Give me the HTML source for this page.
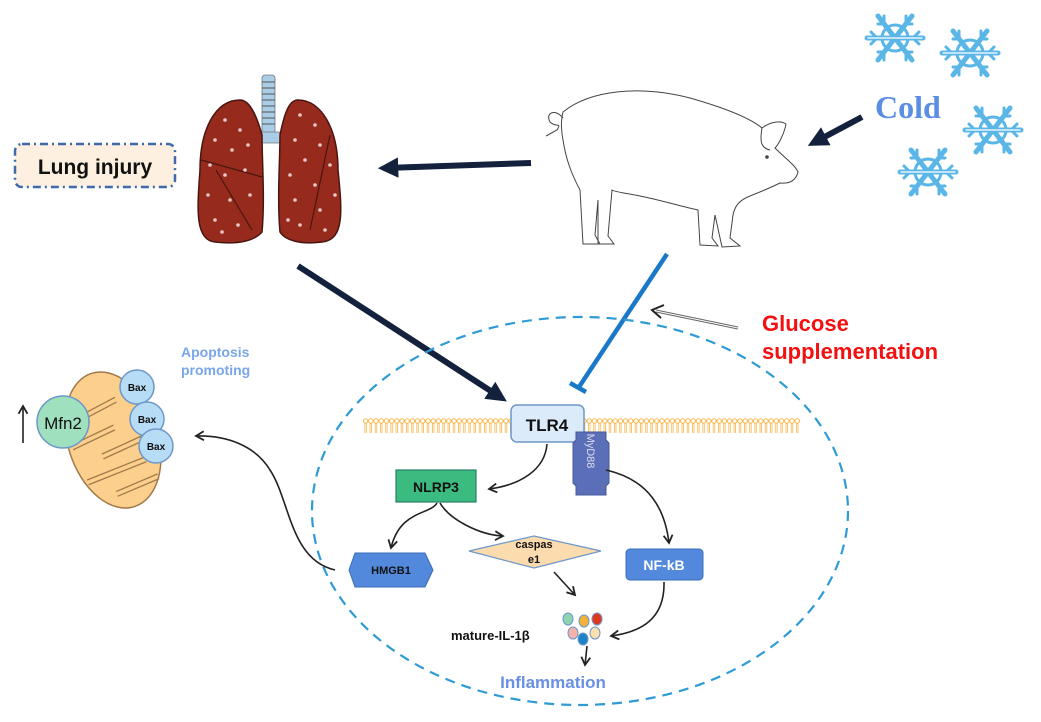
<!DOCTYPE html>
<html><head><meta charset="utf-8"><style>
html,body{margin:0;padding:0;background:#fff;}
svg{display:block;font-family:"Liberation Sans",Arial,sans-serif;}
</style></head><body>
<svg width="1041" height="722" viewBox="0 0 1041 722" xmlns="http://www.w3.org/2000/svg">
<defs>
<pattern id="mem" x="363" y="418" width="5.2" height="16" patternUnits="userSpaceOnUse">
<circle cx="2.6" cy="3" r="2.2" fill="none" stroke="#f6b64a" stroke-width="1"/>
<line x1="1.8" y1="5" x2="1.8" y2="15" stroke="#f6b64a" stroke-width="0.8"/>
<line x1="3.4" y1="5" x2="3.4" y2="15" stroke="#f6b64a" stroke-width="0.8"/>
</pattern>
<g id="flake" stroke="#5bb6e8" stroke-width="5" fill="none" stroke-linecap="round">
<circle r="13" stroke-width="3"/>
<line x1="-28" y1="0" x2="28" y2="0"/>
<line x1="-17" y1="-22" x2="17" y2="22"/>
<line x1="17" y1="-22" x2="-17" y2="22"/>
<path d="M-24,-6 L-18,0 L-24,6 M24,-6 L18,0 L24,6 M-17,-14 L-11,-14 L-11,-22 M17,-14 L11,-14 L11,-22 M-17,14 L-11,14 L-11,22 M17,14 L11,14 L11,22" stroke-width="3"/>
<line x1="-27" y1="0" x2="27" y2="0" stroke="#fff" stroke-width="1.2"/>
</g>
<marker id="ah" viewBox="0 0 10 10" refX="8" refY="5" markerWidth="7" markerHeight="7" orient="auto"><path d="M1,1 L8,5 L1,9" fill="none" stroke="#222" stroke-width="1.6"/></marker>
<marker id="ahn" viewBox="0 0 10 10" refX="6" refY="5" markerWidth="3.4" markerHeight="3.4" orient="auto"><path d="M0,0 L10,5 L0,10 z" fill="#14213d"/></marker>
</defs>

<use href="#flake" transform="translate(895,38)"/>
<use href="#flake" transform="translate(970,53)"/>
<use href="#flake" transform="translate(993,130)"/>
<use href="#flake" transform="translate(928,172)"/>
<text x="875" y="118" font-family="Liberation Serif,serif" font-weight="bold" font-size="32" fill="#5b8ee3">Cold</text>

<rect x="15" y="144" width="160" height="43" rx="7" fill="#fdf0e0" stroke="#3e6aad" stroke-width="2.5" stroke-dasharray="8,4,2,4"/>
<text x="95" y="174" text-anchor="middle" font-weight="bold" font-size="21" fill="#111">Lung injury</text>

<g>
<rect x="262" y="75" width="13" height="62" rx="3" fill="#a9cde6" stroke="#777" stroke-width="0.8"/>
<path d="M262,82 h13 M262,88 h13 M262,94 h13 M262,100 h13 M262,106 h13 M262,112 h13 M262,118 h13 M262,124 h13" stroke="#555" stroke-width="1"/>
<path d="M258,132 L279,132 L284,143 L253,143 z" fill="#a9cde6" stroke="#777" stroke-width="0.8"/>
<path d="M240,100 C215,100 200,130 200,170 C197,210 195,240 215,242 C240,245 255,240 262,232 C265,200 262,160 262,135 C255,110 248,100 240,100 z" fill="#962a1c" stroke="#4a1510" stroke-width="1.5"/>
<path d="M298,100 C322,100 338,130 338,170 C342,210 345,240 322,242 C300,245 285,240 280,232 C277,200 280,160 280,135 C285,110 290,100 298,100 z" fill="#962a1c" stroke="#4a1510" stroke-width="1.5"/>
<path d="M201,160 L262,177 M216,170 L252,230 M330,135 L310,230" stroke="#4a1510" stroke-width="1.2" fill="none"/>
<g fill="#e8c8c8">
<circle cx="225" cy="120" r="1.8"/><circle cx="240" cy="130" r="1.8"/><circle cx="215" cy="140" r="1.8"/><circle cx="232" cy="150" r="1.8"/><circle cx="248" cy="145" r="1.8"/><circle cx="210" cy="165" r="1.8"/><circle cx="225" cy="175" r="1.8"/><circle cx="245" cy="170" r="1.8"/><circle cx="208" cy="195" r="1.8"/><circle cx="230" cy="200" r="1.8"/><circle cx="250" cy="195" r="1.8"/><circle cx="215" cy="220" r="1.8"/><circle cx="238" cy="225" r="1.8"/><circle cx="222" cy="232" r="1.8"/>
<circle cx="300" cy="115" r="1.8"/><circle cx="315" cy="125" r="1.8"/><circle cx="295" cy="140" r="1.8"/><circle cx="320" cy="145" r="1.8"/><circle cx="305" cy="160" r="1.8"/><circle cx="330" cy="165" r="1.8"/><circle cx="290" cy="175" r="1.8"/><circle cx="315" cy="185" r="1.8"/><circle cx="335" cy="195" r="1.8"/><circle cx="295" cy="200" r="1.8"/><circle cx="320" cy="210" r="1.8"/><circle cx="300" cy="225" r="1.8"/><circle cx="325" cy="230" r="1.8"/><circle cx="288" cy="220" r="1.8"/>
</g>
</g>

<!-- pig outline -->
<g fill="none" stroke="#444" stroke-width="1">
<path d="M563,112 C590,90 640,85 690,98 C725,108 750,118 762,128 C770,122 780,120 786,124 C784,135 778,145 775,148 C785,158 795,165 798,172 C796,180 790,184 780,183 C770,188 760,192 750,196 C740,200 735,205 733,215 L730,238 L740,246 L722,247 L715,215 L712,238 L718,246 L700,245 L698,210 C680,206 660,200 640,196 C625,193 615,192 612,190 L608,236 L614,244 L598,244 L598,200 L595,235 L600,244 L583,244 L580,190 C572,175 566,160 563,140 C561,130 561,120 563,112 z"/>
<path d="M563,118 C555,108 545,113 550,122 C556,128 562,122 557,130 L546,136"/>
<path d="M762,128 C760,140 760,148 770,150"/>
<circle cx="767" cy="157" r="1.3" fill="#444"/>
</g>

<line x1="531" y1="163" x2="386" y2="168" stroke="#14213d" stroke-width="6" marker-end="url(#ahn)"/>
<line x1="862" y1="117" x2="815" y2="142" stroke="#14213d" stroke-width="6" marker-end="url(#ahn)"/>
<line x1="298" y1="266" x2="500" y2="397" stroke="#14213d" stroke-width="6" marker-end="url(#ahn)"/>
<line x1="667" y1="254" x2="579" y2="387" stroke="#1a78c8" stroke-width="4.5"/>
<line x1="570" y1="383" x2="586" y2="392" stroke="#1a78c8" stroke-width="4.5"/>
<line x1="738" y1="328" x2="656" y2="311" stroke="#666" stroke-width="3"/>
<line x1="738" y1="328" x2="656" y2="311" stroke="#fff" stroke-width="1"/>
<path d="M664,305 L652,310 L661,318" fill="none" stroke="#222" stroke-width="2"/>

<text x="762" y="331" font-weight="bold" font-size="22" fill="#f21010">Glucose</text>
<text x="762" y="359" font-weight="bold" font-size="22" fill="#f21010">supplementation</text>

<ellipse cx="580" cy="511" rx="268" ry="194" fill="none" stroke="#2f9bd6" stroke-width="2.2" stroke-dasharray="10,7"/>
<rect x="363" y="418" width="437" height="16" fill="url(#mem)"/>

<rect x="511" y="405" width="73" height="37" rx="6" fill="#dcebf9" stroke="#6d97c8" stroke-width="1.5"/>
<text x="547" y="431" text-anchor="middle" font-weight="bold" font-size="17" fill="#111">TLR4</text>
<path d="M576,432 h30 v8 l3,3 v40 l-3,3 v9 h-30 v-9 l-3,-3 v-40 l3,-3 z" fill="#5a6fb8" stroke="#46589a"/>
<text transform="translate(587,451) rotate(90)" text-anchor="middle" font-size="11" fill="#dde">MyD88</text>

<rect x="396" y="470" width="80" height="32" fill="#3cbb81" stroke="#2a7f6a" stroke-width="1.2"/>
<text x="436" y="492" text-anchor="middle" font-weight="bold" font-size="14" fill="#111">NLRP3</text>

<path d="M355,553 L349,570 L355,587 L425,587 L433,570 L425,553 z" fill="#5289dc" stroke="#3b6db8"/>
<text x="391" y="574" text-anchor="middle" font-weight="bold" font-size="11" fill="#111">HMGB1</text>

<path d="M469,551 L534,536 L601,551 L534,568 z" fill="#fcdcae" stroke="#6d97c8" stroke-width="1.2"/>
<text x="534" y="548" text-anchor="middle" font-weight="bold" font-size="11" fill="#111">caspas</text>
<text x="534" y="563" text-anchor="middle" font-weight="bold" font-size="11" fill="#111">e1</text>

<rect x="626" y="549" width="77" height="31" rx="4" fill="#5289dc" stroke="#3b6db8"/>
<text x="664" y="570" text-anchor="middle" font-weight="bold" font-size="14" fill="#fff">NF-kB</text>

<text x="451" y="640" font-weight="bold" font-size="13" fill="#111">mature-IL-1β</text>
<ellipse cx="568" cy="619" rx="5" ry="6" fill="#8ed4b0" stroke="#6d97c8"/>
<ellipse cx="584" cy="621" rx="5" ry="6" fill="#f2b13a" stroke="#6d97c8"/>
<ellipse cx="597" cy="619" rx="5" ry="6" fill="#e0361e" stroke="#6d97c8"/>
<ellipse cx="573" cy="633" rx="5" ry="6" fill="#f2b3a8" stroke="#6d97c8"/>
<ellipse cx="595" cy="633" rx="5" ry="6" fill="#fde0b0" stroke="#6d97c8"/>
<ellipse cx="583" cy="639" rx="5" ry="6" fill="#1c83c8" stroke="#6d97c8"/>
<text x="553" y="688" text-anchor="middle" font-weight="bold" font-size="17" fill="#6a8fe6">Inflammation</text>

<g fill="none" stroke="#222" stroke-width="1.6" marker-end="url(#ah)">
<path d="M547,444 C545,470 520,485 489,489"/>
<path d="M606,470 C650,480 665,510 669,543"/>
<path d="M437,503 C430,515 400,510 391,548"/>
<path d="M440,503 C450,520 480,535 503,536"/>
<path d="M554,572 L575,595"/>
<path d="M664,582 C665,620 640,632 611,636"/>
<path d="M587,646 L585,665"/>
<path d="M335,570 C290,560 290,500 270,470 C255,445 225,435 196,436"/>
</g>

<g transform="rotate(-18 113 440)">
<ellipse cx="113" cy="440" rx="45" ry="70" fill="#fccf8d" stroke="#a07a4a" stroke-width="1.5"/>
<g fill="none" stroke="#a07a4a" stroke-width="1.3">
<path d="M82,408 L128,400 M72,432 L118,426 M98,450 L150,444 M76,470 L138,466 M100,490 L145,486"/>
<path d="M82,413 L128,405 M72,437 L118,431 M98,455 L150,449 M76,475 L138,471 M100,495 L145,491"/>
</g>
</g>
<circle cx="63" cy="422" r="26" fill="#9fe0be" stroke="#6d97c8" stroke-width="1.5"/>
<text x="63" y="429" text-anchor="middle" font-size="17" fill="#111">Mfn2</text>
<circle cx="137" cy="387" r="17" fill="#b7dcf5" stroke="#6d97c8" stroke-width="1.5"/>
<text x="137" y="391" text-anchor="middle" font-weight="bold" font-size="10" fill="#111">Bax</text>
<circle cx="147" cy="419" r="17" fill="#b7dcf5" stroke="#6d97c8" stroke-width="1.5"/>
<text x="147" y="423" text-anchor="middle" font-weight="bold" font-size="10" fill="#111">Bax</text>
<circle cx="156" cy="446" r="17" fill="#b7dcf5" stroke="#6d97c8" stroke-width="1.5"/>
<text x="156" y="450" text-anchor="middle" font-weight="bold" font-size="10" fill="#111">Bax</text>
<line x1="23" y1="443" x2="23" y2="406" stroke="#222" stroke-width="1.6" marker-end="url(#ah)"/>
<text x="181" y="357" font-weight="bold" font-size="14" fill="#79a6ea">Apoptosis</text>
<text x="181" y="375" font-weight="bold" font-size="14" fill="#79a6ea">promoting</text>
</svg>
</body></html>
